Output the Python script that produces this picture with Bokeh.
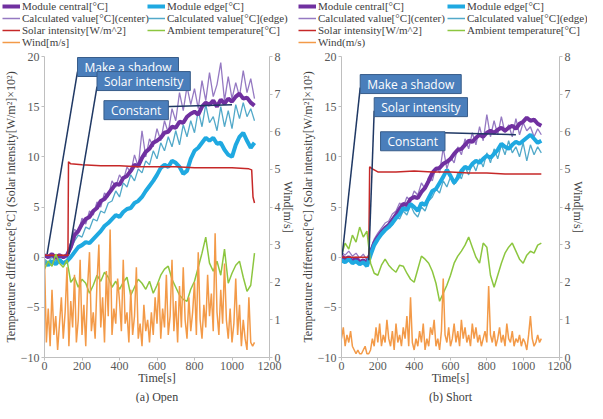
from bokeh.plotting import figure
from bokeh.models import Range1d, LinearAxis, Label, Legend, LegendItem, FixedTicker
from bokeh.layouts import row, column
from bokeh.embed import file_html
from bokeh.resources import INLINE

SERIF = "Liberation Serif"
SANS = "Open Sans"

# ---------------- data: (a) Open ----------------
time_a = list(range(0, 1121, 20))
central_a = [0.2, 0.0, 0.3, -0.1, 0.2, 0.0, 0.2, 1.0, 2.2, 2.6,
             3.3, 3.8, 4.0, 4.6, 4.9, 5.6, 5.8, 6.3, 6.8, 7.3,
             7.2, 7.9, 8.1, 8.6, 9.2, 9.1, 9.9, 10.5, 10.8, 11.4,
             11.6, 11.9, 12.4, 12.5, 13.0, 12.9, 13.5, 13.4, 14.0, 14.3,
             14.5, 14.2, 15.0, 15.4, 15.2, 15.6, 15.0, 15.7, 15.3, 15.8,
             15.5, 16.0, 16.3, 15.8, 15.9, 15.4, 15.1]
edge_a = [-0.5, -0.8, -0.4, -0.7, -0.3, -0.6, -0.4, 0.0, 0.5, 1.0,
          1.2, 1.5, 1.4, 1.8, 2.2, 2.6, 3.1, 3.4, 3.8, 4.2,
          4.0, 4.5, 4.8, 4.9, 5.4, 5.6, 6.0, 6.6, 7.1, 7.6,
          8.2, 8.9, 9.2, 9.0, 9.6, 9.4, 9.0, 8.3, 8.6, 9.8,
          10.6, 10.9, 11.4, 11.9, 11.6, 11.9, 11.3, 11.4, 10.7, 10.2,
          10.0, 11.2, 12.0, 12.4, 11.6, 10.9, 11.4]
calc_center_a = [0.3, 0.0, 0.4, 0.1, 0.3, 0.0, 0.3, 1.5, 2.8, 2.4,
                 3.9, 3.3, 4.6, 4.2, 5.5, 5.0, 6.4, 6.0, 7.6, 7.0,
                 8.2, 7.6, 9.0, 8.4, 10.2, 9.0, 12.6, 10.0, 11.8, 11.0,
                 12.8, 11.6, 13.6, 12.4, 14.8, 13.6, 16.4, 14.6, 17.0, 15.2,
                 16.8, 14.8, 17.6, 15.6, 18.4, 16.0, 17.2, 19.4, 15.6, 18.0,
                 15.8, 17.4, 16.0, 18.6, 16.4, 17.8, 15.8]
calc_edge_a = [-0.2, -0.5, 0.0, -0.4, -0.1, -0.5, -0.2, 0.8, 1.6, 2.2,
               2.0, 3.0, 2.8, 3.8, 3.6, 4.6, 4.4, 5.4, 5.6, 6.6,
               6.0, 7.4, 7.0, 8.2, 7.6, 8.8, 8.4, 9.6, 9.2, 10.6,
               9.8, 11.4, 10.6, 12.0, 11.0, 12.6, 11.2, 13.2, 12.0, 13.6,
               12.4, 14.6, 13.0, 15.2, 13.4, 14.0, 12.6, 15.0, 13.0, 14.6,
               12.8, 15.2, 13.8, 15.4, 14.0, 14.8, 13.6]
ambient_a = [-1.2, -0.4, -0.9, 0.3, -0.6, -1.0, -0.3, -2.5, -2.0, -3.0,
             -2.2, -2.6, -3.6, -2.8, -1.8, -2.4, -1.5, -2.0, -3.0, -2.4,
             -3.2, -2.5, -2.0, -3.8, -3.0, -2.2, -2.6, -3.2, -2.4, -3.6,
             -2.8, -1.8, -1.2, -0.9, -2.2, -3.0, -3.8, -4.2, -4.4, -3.2,
             -2.4, -1.0, 0.4, 2.0, -0.6, -1.4, -0.4, -1.8, 0.8, -2.6,
             -1.6, -0.8, -0.4, -2.0, -3.4, -2.8, 0.4]
solar_time_a = [0, 125, 128, 140, 200, 300, 400, 500, 600, 700, 800, 900, 1000, 1090, 1105, 1112, 1120]
solar_a = [0.2, 0.2, 9.5, 9.3, 9.2, 9.1, 9.1, 9.0, 9.0, 9.0, 8.9, 8.9, 8.9, 8.8, 8.7, 6.0, 5.4]
wind_time_a = list(range(0, 1121, 10))
wind_a = [2.6, 0.4, 1.3, 0.3, 1.8, 0.6, 1.1, 0.2, 0.9, 1.6,
          0.5, 1.2, 2.4, 0.3, 1.5, 0.8, 2.2, 0.4, 1.0, 2.6,
          0.6, 1.4, 0.3, 1.9, 2.8, 0.7, 1.2, 0.5, 2.0, 3.0,
          0.8, 1.6, 0.4, 2.3, 1.1, 3.4, 0.6, 1.3, 0.9, 2.1,
          1.5, 0.7, 2.6, 0.9, 1.2, 0.4, 1.8, 0.6, 1.1, 2.4,
          0.5, 0.9, 0.3, 1.4, 0.7, 1.0, 0.4, 1.2, 0.6, 1.6,
          0.9, 2.0, 0.5, 1.3, 0.8, 2.2, 0.6, 1.1, 2.6, 0.7,
          1.5, 0.4, 1.9, 0.8, 2.4, 1.0, 0.5, 1.6, 0.7, 1.2,
          2.0, 0.6, 2.8, 1.0, 0.5, 1.4, 0.8, 2.2, 1.1, 1.7,
          0.7, 3.3, 1.2, 0.6, 1.8, 0.9, 2.5, 1.0, 0.5, 1.3,
          0.4, 0.9, 2.1, 0.6, 1.4, 0.3, 1.0, 0.5, 0.2, 1.6,
          0.4, 0.3, 0.4]

# ---------------- data: (b) Short ----------------
time_b = list(range(0, 1101, 20))
central_b = [0.1, -0.2, 0.0, -0.4, -0.1, -0.5, -0.3, -0.6, 0.4, 1.4,
             2.0, 2.5, 2.9, 3.2, 3.7, 4.2, 4.8, 5.3, 5.2, 5.8,
             6.0, 5.9, 6.5, 6.9, 7.6, 8.4, 8.8, 8.9, 9.3, 9.5,
             9.8, 10.3, 10.7, 10.8, 11.2, 11.6, 11.5, 11.9, 12.2, 12.0,
             12.4, 12.6, 12.4, 12.7, 12.9, 12.6, 12.9, 13.1, 12.8, 13.3,
             13.5, 13.9, 13.6, 13.7, 13.3, 13.1]
edge_b = [-0.3, -0.5, -0.2, -0.6, -0.4, -0.7, -0.5, -0.9, 0.2, 1.2,
          1.8, 2.3, 2.7, 3.0, 3.4, 3.9, 4.3, 4.9, 4.7, 5.3,
          5.0, 4.6, 5.4, 5.2, 5.9, 6.6, 6.8, 7.4, 8.0, 8.7,
          8.1, 7.4, 7.9, 8.6, 9.0, 8.8, 9.3, 9.6, 9.4, 9.8,
          10.1, 9.9, 10.3, 10.7, 11.3, 11.0, 10.8, 11.2, 11.5, 11.3,
          11.6, 11.9, 12.2, 11.8, 11.4, 11.6]
calc_center_b = [0.5, 0.2, 0.6, 0.1, 0.4, -0.1, 0.3, -0.3, 0.8, 1.8,
                 2.4, 2.9, 3.4, 3.6, 4.3, 4.6, 5.4, 5.0, 6.0, 5.6,
                 6.6, 6.2, 7.4, 6.8, 8.0, 7.6, 9.0, 8.4, 10.9, 8.8,
                 10.0, 9.4, 11.0, 10.2, 11.8, 10.8, 12.4, 11.2, 13.0, 11.6,
                 14.2, 12.0, 13.6, 12.2, 14.0, 12.4, 13.2, 12.0, 13.8, 12.2,
                 13.4, 12.6, 13.0, 12.0, 12.8, 12.2]
calc_edge_b = [-0.1, -0.4, 0.0, -0.5, -0.2, -0.6, -0.3, -0.8, 0.4, 1.4,
               2.0, 2.6, 2.8, 3.4, 3.2, 4.0, 3.8, 4.6, 4.2, 5.2,
               4.4, 4.0, 5.0, 4.6, 5.6, 6.0, 6.8, 6.4, 7.6, 7.0,
               8.0, 7.2, 8.4, 7.8, 9.0, 8.2, 9.4, 8.6, 9.8, 9.0,
               10.4, 9.4, 10.8, 9.8, 11.2, 10.2, 11.6, 10.4, 11.0, 10.0,
               11.4, 9.6, 11.2, 10.2, 11.0, 10.4]
ambient_b = [0.2, 1.4, 0.8, 2.2, 1.5, 3.0, 2.0, 2.6, -0.6, -1.6,
             -1.8, -0.8, -0.2, -0.8, -1.2, -1.5, -0.8, -0.9, -1.6, -2.2,
             -2.5, -1.2, 0.1, -0.2, -0.6, -1.4, -2.6, -4.4, -3.6, -2.8,
             -1.8, -0.6, 0.1, 0.6, 1.2, 2.0, 1.0, 0.0, -0.6, 1.4,
             1.0, -1.8, -3.0, -1.8, -0.6, 0.4, 1.0, 1.4, 0.6, -0.2,
             -0.6, 0.2, 0.6, 0.4, 1.2, 1.4]
solar_time_b = [0, 150, 155, 170, 200, 300, 400, 500, 600, 700, 800, 900, 1000, 1100]
solar_b = [0.0, 0.0, 9.0, 8.8, 8.5, 8.5, 8.6, 8.5, 8.5, 8.4, 8.4, 8.3, 8.3, 8.3]
wind_time_b = list(range(0, 1101, 10))
wind_b = [0.5, 0.8, 0.3, 0.6, 0.4, 0.7, 0.3, 0.2, 0.1, 0.2,
          0.1, 0.1, 0.2, 0.3, 0.1, 0.1, 0.2, 0.5, 0.3, 0.8,
          0.4, 0.9, 0.3, 0.6, 0.4, 1.0, 0.5, 0.3, 0.7, 0.2,
          0.9, 0.4, 0.6, 0.3, 0.8, 0.5, 1.1, 0.3, 1.6, 0.4,
          0.2, 0.5, 0.3, 0.7, 0.4, 0.9, 0.2, 0.5, 0.3, 0.8,
          0.6, 1.0, 0.3, 0.5, 0.2, 0.7, 2.1, 0.6, 0.4, 0.8,
          0.3, 0.5, 0.9, 0.4, 0.7, 0.3, 1.0, 0.5, 0.8, 0.4,
          0.6, 0.3, 0.9, 0.5, 0.8, 0.4, 0.6, 0.3, 0.5, 0.7,
          0.4, 1.9, 0.6, 0.4, 0.7, 0.3, 0.5, 0.8, 0.4, 0.6,
          0.3, 0.9, 0.5, 0.4, 0.7, 0.3, 0.5, 0.4, 0.6, 0.3,
          0.5, 0.4, 0.2, 0.6, 1.1, 0.5, 0.3, 0.4, 0.6, 0.4,
          0.5]

# ---------------- axes / labels ----------------
x_ticks = [0, 200, 400, 600, 800, 1000, 1200]
left_ticks = [-10, -5, 0, 5, 10, 15, 20]
wind_ticks = [0, 1, 2, 3, 4, 5, 6, 7, 8]
left_title = "Temperature difference[\u00b0C] (Solar intensity[W/m\u00b2]\u00d710\u00b2)"
legend_labels_a = ["Module central[\u00b0C]", "Module edge[\u00b0C]",
                   "Calculated value[\u00b0C](center)", "Calculated value[\u00b0C](edge)",
                   "Solar intensity[W/m^2]", "Ambient temperature[\u00b0C]", "Wind[m/s]"]
legend_labels_b = legend_labels_a[:6] + ["Wind(m/s)"]

# callouts: text, box top-left (t, value), leader start, leader end
callouts_a = [("Make a shadow", (176, 19.9), (176, 18.5), (14, 0.3)),
              ("Solar intensity", (280, 18.5), (280, 17.0), (130, 0.3)),
              ("Constant", (317, 15.6), (630, 15.0), (1000, 15.2))]
callouts_b = [("Make a shadow", (103, 18.2), (103, 16.9), (4, 0.2)),
              ("Solar intensity", (180, 15.9), (180, 14.6), (150, -0.3)),
              ("Constant", (215, 12.5), (560, 12.4), (960, 12.2))]

C_CENTRAL = "#7030A0"
C_EDGE = "#1FA9E1"
C_CALC_C = "#9579C2"
C_CALC_E = "#52A9C9"
C_SOLAR = "#C62828"
C_AMB = "#8CC63F"
C_WIND = "#F39A48"
C_LEADER = "#1F3864"
C_BOX = "#4A7EBB"
COLORS = [C_CENTRAL, C_EDGE, C_CALC_C, C_CALC_E, C_SOLAR, C_AMB, C_WIND]
WIDTHS = [4, 4, 1.5, 1.5, 1.5, 1.5, 1.5]

LEG_H = 50
ROW_H = 12
MAIN_H = 403 - LEG_H
NAN = float("nan")


def style_axis(ax, ticks):
    ax.ticker = FixedTicker(ticks=ticks)
    ax.axis_line_color = "#BFBFBF"
    ax.major_tick_line_color = "#BFBFBF"
    ax.major_tick_out = 3
    ax.major_tick_in = 0
    ax.minor_tick_line_color = None
    ax.major_label_text_font = SERIF
    ax.major_label_text_font_size = "12px"
    ax.major_label_text_color = "#595959"
    ax.major_label_standoff = 2
    ax.axis_label_text_font = SERIF
    ax.axis_label_text_font_size = "12px"
    ax.axis_label_text_font_style = "normal"
    ax.axis_label_text_color = "#404040"
    ax.axis_label_standoff = 0


def legend_fig(width, labels, x1, x2):
    lf = figure(width=width, height=LEG_H, x_range=Range1d(0, 1), y_range=Range1d(0, 1),
                output_backend="svg", toolbar_location=None,
                x_axis_location=None, y_axis_location=None,
                min_border=0)
    lf.outline_line_color = None
    lf.xgrid.visible = False
    lf.ygrid.visible = False
    rends = [lf.line([NAN, NAN], [NAN, NAN], line_color=c, line_width=w)
             for c, w in zip(COLORS, WIDTHS)]
    items = [LegendItem(label=lab, renderers=[r]) for lab, r in zip(labels, rends)]
    cols = [([items[0], items[2], items[4], items[6]], x1),
            ([items[1], items[3], items[5]], x2)]
    for its, x in cols:
        leg = Legend(items=its, location=(x, LEG_H - len(its) * ROW_H),
                     orientation="vertical",
                     padding=0, margin=0, spacing=0,
                     glyph_width=18, glyph_height=ROW_H, label_height=ROW_H,
                     label_standoff=2,
                     label_text_font=SERIF, label_text_font_size="11px",
                     label_text_line_height=1.0,
                     label_text_color="#404040",
                     background_fill_alpha=0, border_line_alpha=0)
        lf.add_layout(leg, "center")
    return lf


def panel(title, t, central, edge, cc, ce, ts, solar, amb, tw, wind,
          callouts, width, mb_left, mb_right):
    p = figure(width=width, height=MAIN_H,
               x_range=Range1d(0, 1200), y_range=Range1d(-10, 20),
               output_backend="svg", toolbar_location=None,
               min_border_left=mb_left, min_border_right=mb_right,
               min_border_top=6, min_border_bottom=40,
               title=title, title_location="below")
    p.extra_y_ranges = {"wind": Range1d(0, 8)}
    p.outline_line_color = None
    p.xgrid.visible = False
    p.ygrid.visible = False
    p.title.align = "center"
    p.title.text_font = SERIF
    p.title.text_font_style = "normal"
    p.title.text_font_size = "12px"
    p.title.text_color = "#404040"
    p.title.standoff = 0

    style_axis(p.xaxis[0], x_ticks)
    p.xaxis[0].axis_label = "Time[s]"
    p.xaxis[0].major_label_standoff = 1
    p.xaxis[0].axis_label_standoff = -2
    style_axis(p.yaxis[0], left_ticks)
    p.yaxis[0].axis_label = left_title
    rax = LinearAxis(y_range_name="wind", axis_label="Wind[m/s]")
    style_axis(rax, wind_ticks)
    rax.axis_label_standoff = -3
    p.add_layout(rax, "right")

    p.line(t, cc, line_color=C_CALC_C, line_width=1.3)
    p.line(t, ce, line_color=C_CALC_E, line_width=1.3)
    p.line(t, central, line_color=C_CENTRAL, line_width=4)
    p.line(t, edge, line_color=C_EDGE, line_width=4)
    p.line(ts, solar, line_color=C_SOLAR, line_width=1.5)
    p.line(t, amb, line_color=C_AMB, line_width=1.5)
    p.line(tw, wind, line_color=C_WIND, line_width=1.5, y_range_name="wind")

    for text, box, start, end in callouts:
        p.line([start[0], end[0]], [start[1], end[1]], line_color=C_LEADER, line_width=1.5)
        p.add_layout(Label(x=box[0], y=box[1], text=text, anchor="top_left",
                           text_color="white", text_font=SANS, text_font_size="12px",
                           background_fill_color=C_BOX, border_line_color="#385D8A",
                           padding=(7, 1)))
    return p


W1, W2 = 297, 290
la = legend_fig(W1, legend_labels_a, 2, 147)
lb = legend_fig(W2, legend_labels_b, 1, 150)
pa = panel("(a) Open", time_a, central_a, edge_a, calc_center_a, calc_edge_a,
           solar_time_a, solar_a, ambient_a, wind_time_a, wind_a,
           callouts_a, W1, 38, 0)
pb = panel("(b) Short", time_b, central_b, edge_b, calc_center_b, calc_edge_b,
           solar_time_b, solar_b, ambient_b, wind_time_b, wind_b,
           callouts_b, W2, 38, 0)

layout = column(row(la, lb), row(pa, pb))
open("out.html", "w").write(file_html(layout, INLINE))
